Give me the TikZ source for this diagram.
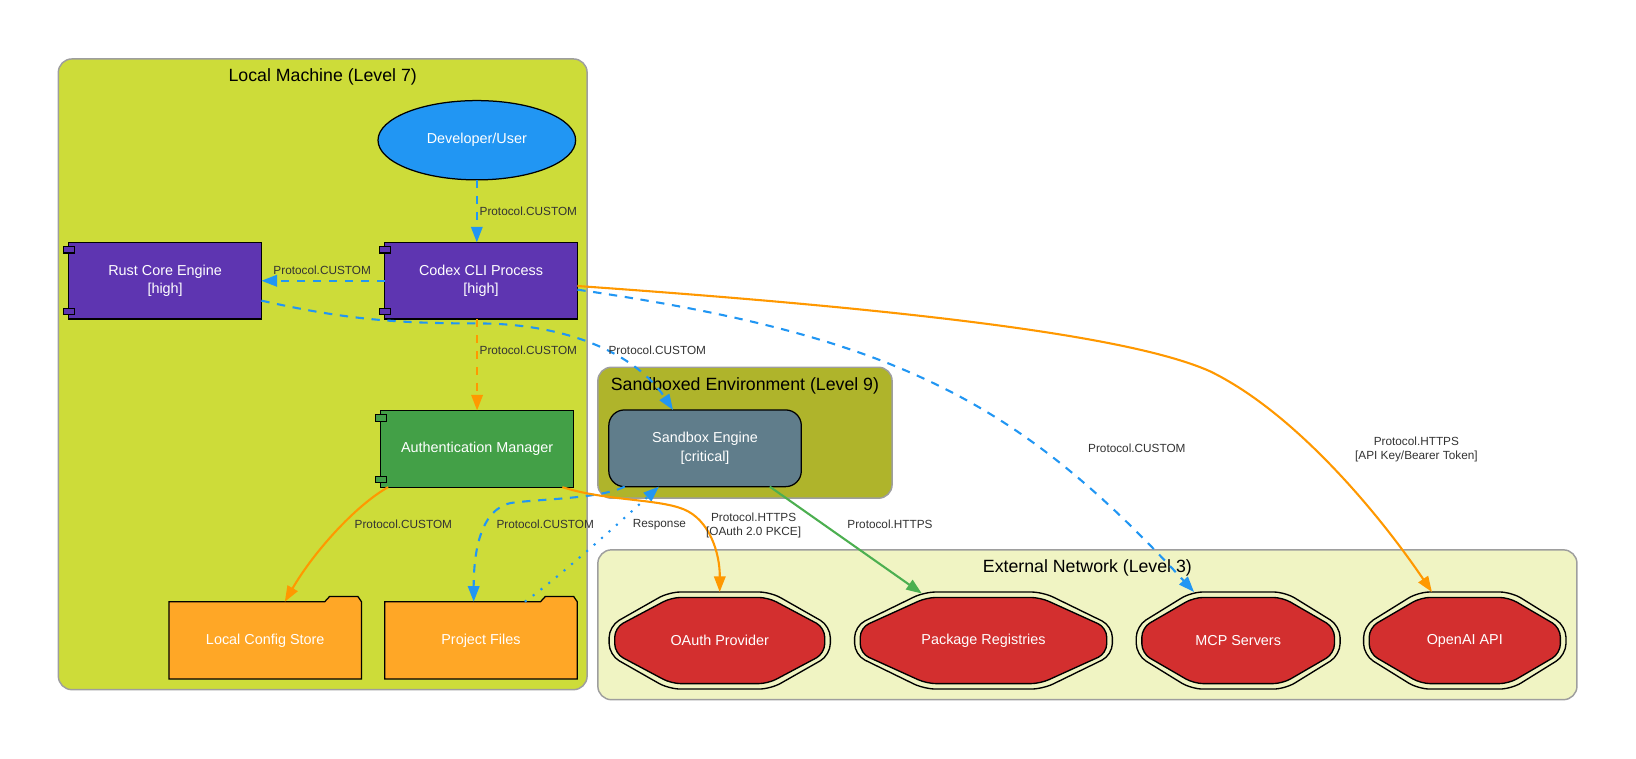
\documentclass[tikz,border=0pt]{standalone}
\usepackage{fontspec}
\setmainfont{Liberation Sans}
\usetikzlibrary{calc,arrows.meta,shapes.geometric}
\pgfdeclarelayer{clu}
\pgfdeclarelayer{shp}
\pgfsetlayers{clu,shp,main}
\definecolor{limeA}{HTML}{CDDC39}
\definecolor{limeB}{HTML}{AFB42B}
\definecolor{limeC}{HTML}{F0F4C3}
\definecolor{cluborder}{HTML}{9E9E9E}
\definecolor{devblue}{HTML}{2196F3}
\definecolor{purp}{HTML}{5E35B1}
\definecolor{authgreen}{HTML}{43A047}
\definecolor{folderor}{HTML}{FFA726}
\definecolor{slate}{HTML}{607D8B}
\definecolor{extred}{HTML}{D32F2F}
\definecolor{eblue}{HTML}{2196F3}
\definecolor{eorange}{HTML}{FF9800}
\definecolor{egreen}{HTML}{4CAF50}
\definecolor{lblgray}{HTML}{333333}
\newcommand\octpath[3]{($(#1)+({-(#2)},{-0.3*(#3)})$) -- ($(#1)+({-0.46*(#2)},{-(#3)})$) -- ($(#1)+({0.46*(#2)},{-(#3)})$) -- ($(#1)+({#2},{-0.3*(#3)})$) -- ($(#1)+({#2},{0.3*(#3)})$) -- ($(#1)+({0.46*(#2)},{#3})$) -- ($(#1)+({-0.46*(#2)},{#3})$) -- ($(#1)+({-(#2)},{0.3*(#3)})$) -- cycle}
\begin{document}
\begin{tikzpicture}[x=1pt,y=-1pt,
  cluster/.style={draw=cluborder, line width=1.4pt, rounded corners=13pt},
  clutitle/.style={font=\fontsize{17}{20}\selectfont, text=black, inner sep=0pt, anchor=base},
  nodetext/.style={font=\fontsize{13.8}{17.6}\selectfont, text=white, align=center, inner sep=0pt, outer sep=0pt},
  comp/.style={nodetext, rectangle, draw=black, line width=1.2pt, minimum width=184.5pt, minimum height=73.5pt},
  lbl/.style={font=\fontsize{11.3}{13.5}\selectfont, text=lblgray, inner sep=0pt, align=center},
  tip/.style={-{Triangle[length=15pt,width=11pt]}},
  eb/.style={draw=eblue, line width=2pt, dash pattern=on 8pt off 7.3pt, tip},
  eod/.style={draw=eorange, line width=2pt, dash pattern=on 8pt off 7.3pt, tip},
  eos/.style={draw=eorange, line width=2pt, tip},
  egs/.style={draw=egreen, line width=2pt, tip},
  edot/.style={draw=eblue, line width=2pt, dash pattern=on 2pt off 7.5pt, tip}
]
\useasboundingbox (0,0) rectangle (1568,727.4);

% clusters
\begin{pgfonlayer}{clu}
\filldraw[cluster, fill=limeA] (55.9,56.5) rectangle (562.7,661);
\filldraw[cluster, fill=limeB] (573,352) rectangle (855,477.5);
\filldraw[cluster, fill=limeC] (573,527) rectangle (1511.4,670.6);
\end{pgfonlayer}
\node[clutitle] (t1) at (309.3,78) {Local Machine (Level 7)};
\node[clutitle] (t2) at (714,374.1) {Sandboxed Environment (Level 9)};
\node[clutitle] (t3) at (1042.2,549) {External Network (Level 3)};

% nodes
\node[nodetext, ellipse, fill=devblue, draw=black, line width=1.2pt, minimum width=189.4pt, minimum height=76pt] (dev) at (457,134.4) {Developer/User};
\node[comp, fill=purp] (rust) at (158.25,269.1) {Rust Core Engine\\{}[high]};
\node[comp, fill=purp] (codex) at (461.1,269.1) {Codex CLI Process\\{}[high]};
\node[comp, fill=authgreen] (auth) at (457.25,430.15) {Authentication Manager};
\node[comp, fill=slate, rounded corners=15pt] (sbeng) at (675.75,429.65) {Sandbox Engine\\{}[critical]};
\node[nodetext, minimum width=184.5pt, minimum height=74pt] (config) at (254.2,613.7) {Local Config Store};
\node[nodetext, minimum width=184.5pt, minimum height=74pt] (project) at (461,613.7) {Project Files};
\node[nodetext, minimum width=212pt, minimum height=93pt] (oauth) at (689.8,613.9) {OAuth Provider};
\node[nodetext, minimum width=247pt, minimum height=93pt] (package) at (942.6,613.9) {Package Registries};
\node[nodetext, minimum width=195.4pt, minimum height=93pt] (mcp) at (1186.7,613.9) {MCP Servers};
\node[nodetext, minimum width=194pt, minimum height=93pt] (openai) at (1403.9,613.9) {OpenAI API};

% component tabs
\foreach \n/\c in {rust/purp,codex/purp,auth/authgreen}{
  \filldraw[fill=\c, draw=black, line width=1.1pt] ($(\n.north west)+(-5.5,4.2)$) rectangle ++(11.2,6);
  \filldraw[fill=\c, draw=black, line width=1.1pt] ($(\n.south west)+(-5.5,-10.3)$) rectangle ++(11.2,6);
}

% folder and octagon outlines
\begin{pgfonlayer}{shp}
\foreach \n in {config,project}{
  \filldraw[fill=folderor, draw=black, line width=1.2pt]
    (\n.north west) -- ($(\n.north east)+(-35.2,0)$) -- ($(\n.north east)+(-30.5,-5.1)$)
    -- ($(\n.north east)+(-3.5,-5.1)$) -- (\n.north east) -- (\n.south east) -- (\n.south west) -- cycle;
}
\foreach \n/\a in {oauth/106,package/123.5,mcp/97.7,openai/97}{
  \draw[black, line width=1.3pt, rounded corners=11pt] \octpath{\n}{\a}{46.5};
  \filldraw[fill=extred, draw=black, line width=1.3pt, rounded corners=9pt] \octpath{\n}{\a-5.4}{41.3};
}
\end{pgfonlayer}

% edges
\draw[eb] (dev.south) -- (dev.south |- codex.north);
\draw[eb] (codex.west) -- (rust.east);
\draw[eod] (auth.north |- codex.south) -- (auth.north);
\draw[eb] ($(rust.east)+(0,19)$) .. controls (330,306) and (380,310) .. (458,310)
   .. controls (545,310) and (610,340) .. ($(sbeng.north)+(-30.75,0)$);
\draw[eb] ($(codex.east)+(0,8.5)$) .. controls (853.6,321.3) and (974,382) .. ($(mcp.center)+(-42.3,-46.5)$);
\draw[eos] ($(codex.east)+(0,5)$) .. controls (850,295) and (1080,320) .. (1160,356)
   .. controls (1240,395) and (1320,490) .. ($(openai.center)+(-31.5,-46.5)$);
\draw[eos] ($(auth.south)+(-85.25,0)$) .. controls (340,485) and (300,530) .. ($(config.north)+(18.8,0)$);
\draw[eb] ($(sbeng.south)+(-77,0)$) .. controls (575,478) and (520,478) .. (490,482)
   .. controls (460,488) and (454,530) .. ($(project.north)+(-7,0)$);
\draw[edot] ($(project.north)+(42,0)$) .. controls (540,550) and (600,495) .. ($(sbeng.south)+(-44.2,0)$);
\draw[eos] ($(auth.south)+(81.75,0)$) .. controls (580,480) and (630,478) .. (655,488)
   .. controls (680,498) and (690,530) .. ($(oauth.center)+(0,-46.5)$);
\draw[egs] ($(sbeng.south)+(62,0)$) -- ($(package.center)+(-59,-45)$);

% edge labels
\node[lbl, anchor=base west] (l1) at (459.5,206.9) {Protocol.CUSTOM};
\node[lbl, anchor=base] (l2) at (308.8,262.8) {Protocol.CUSTOM};
\node[lbl, anchor=base west] (l3) at (459.5,340) {Protocol.CUSTOM};
\node[lbl, anchor=base] (l4) at (630,340) {Protocol.CUSTOM};
\node[lbl, anchor=base] (l5) at (1089.6,434) {Protocol.CUSTOM};
\node[lbl] (l6) at (1357.5,431) {Protocol.HTTPS\\{}[API Key/Bearer Token]};
\node[lbl, anchor=base] (l7) at (386.6,507) {Protocol.CUSTOM};
\node[lbl, anchor=base] (l8) at (522.6,507) {Protocol.CUSTOM};
\node[lbl, anchor=base] (l9) at (632,506) {Response};
\node[lbl] (l10) at (722.3,503.6) {Protocol.HTTPS\\{}[OAuth 2.0 PKCE]};
\node[lbl, anchor=base] (l11) at (853,506.6) {Protocol.HTTPS};
\end{tikzpicture}
\end{document}
